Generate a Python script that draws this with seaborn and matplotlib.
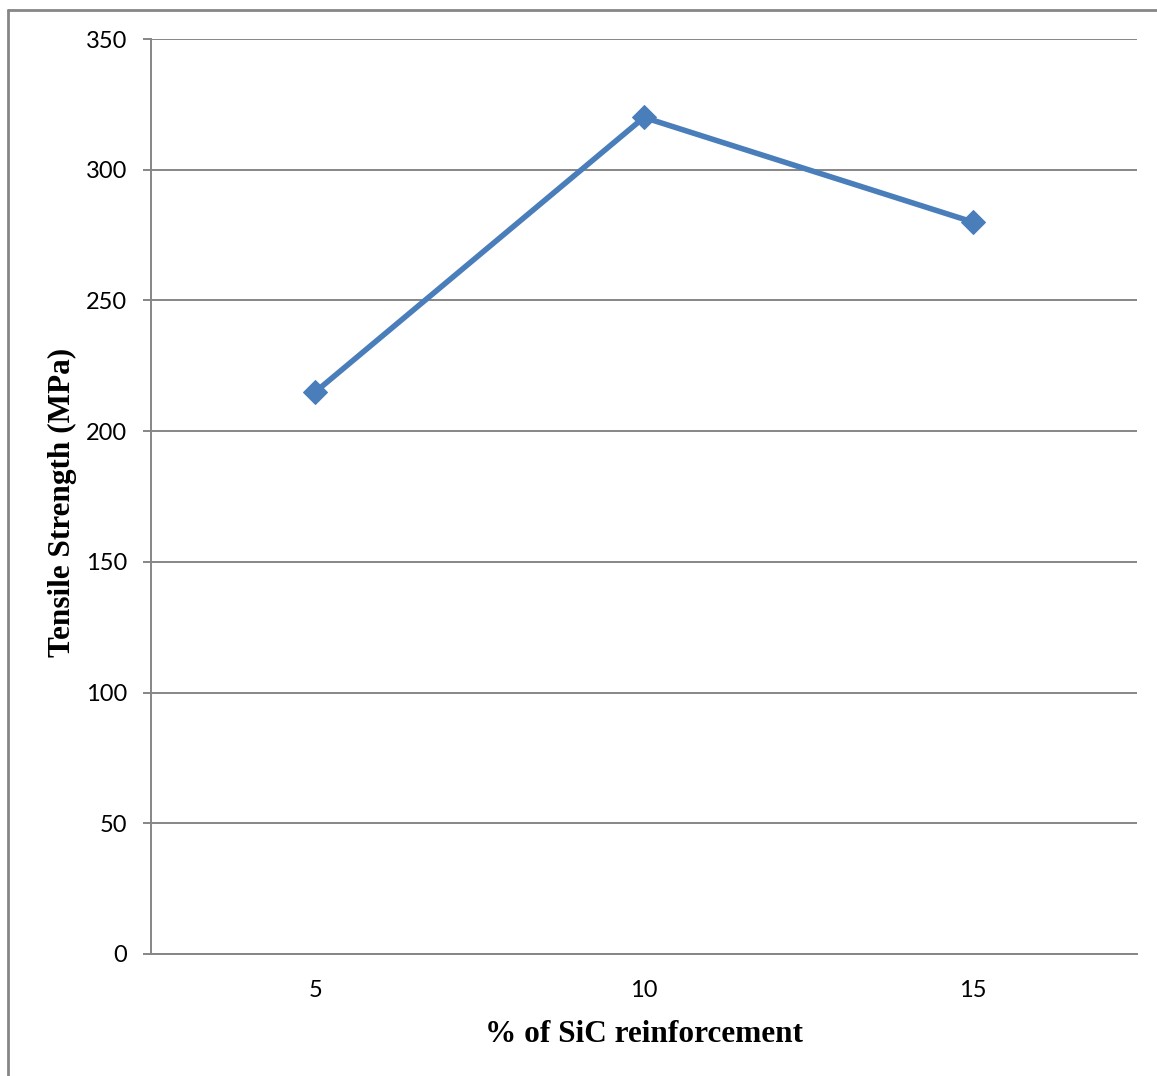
import matplotlib
matplotlib.use("Agg")
import matplotlib.pyplot as plt
from matplotlib.lines import Line2D
import seaborn as sns
import pandas as pd

# Tensile strength of the composite at each SiC reinforcement level
sic_percent = ["5", "10", "15"]
tensile_mpa = [215, 320, 280]
y_ticks = [0, 50, 100, 150, 200, 250, 300, 350]

df = pd.DataFrame({"SiC": sic_percent, "Tensile": tensile_mpa})

sns.set_theme(style="white")
plt.rcParams["font.family"] = ["Lato", "DejaVu Sans"]

W, H = 1157, 1076
fig = plt.figure(figsize=(W / 100, H / 100), dpi=100)
ax = fig.add_axes([151 / W, (H - 954) / H, (1137 - 151) / W, (954 - 39) / H])

grid_col = "#868686"
blue = "#4A7EBB"

sns.lineplot(data=df, x="SiC", y="Tensile", ax=ax, color=blue, linewidth=4,
             marker="D", markersize=12, markeredgecolor=blue, sort=False, zorder=3)

ax.set_xlim(-0.5, len(sic_percent) - 0.5)
ax.set_ylim(0, 350)
ax.set_yticks(y_ticks)
ax.yaxis.grid(True, color=grid_col, linewidth=1.4)
ax.xaxis.grid(False)

for side in ["top", "right"]:
    ax.spines[side].set_visible(False)
for side in ["left", "bottom"]:
    ax.spines[side].set_color(grid_col)
    ax.spines[side].set_linewidth(1.4)

ax.tick_params(axis="y", left=True, length=6, width=1.4, color=grid_col,
               pad=11, labelsize=17, labelcolor="black")
ax.tick_params(axis="x", bottom=False, length=0, pad=19, labelsize=17,
               labelcolor="black")

label_font = dict(family="Liberation Serif", weight="bold", size=22.5, color="black")
ax.set_xlabel("% of SiC reinforcement", **label_font)
ax.set_ylabel("Tensile Strength (MPa)", **label_font)
ax.xaxis.set_label_coords(0.5, -0.0725)
ax.yaxis.set_label_coords(-0.075, 0.494)

# Chart frame
fig.add_artist(Line2D([8 / W, 8 / W], [0, 1 - 10 / H], transform=fig.transFigure,
                      color=grid_col, linewidth=2))
fig.add_artist(Line2D([8 / W, 1], [1 - 10 / H, 1 - 10 / H], transform=fig.transFigure,
                      color=grid_col, linewidth=2))

fig.savefig("out.png", dpi=100, facecolor="white")
